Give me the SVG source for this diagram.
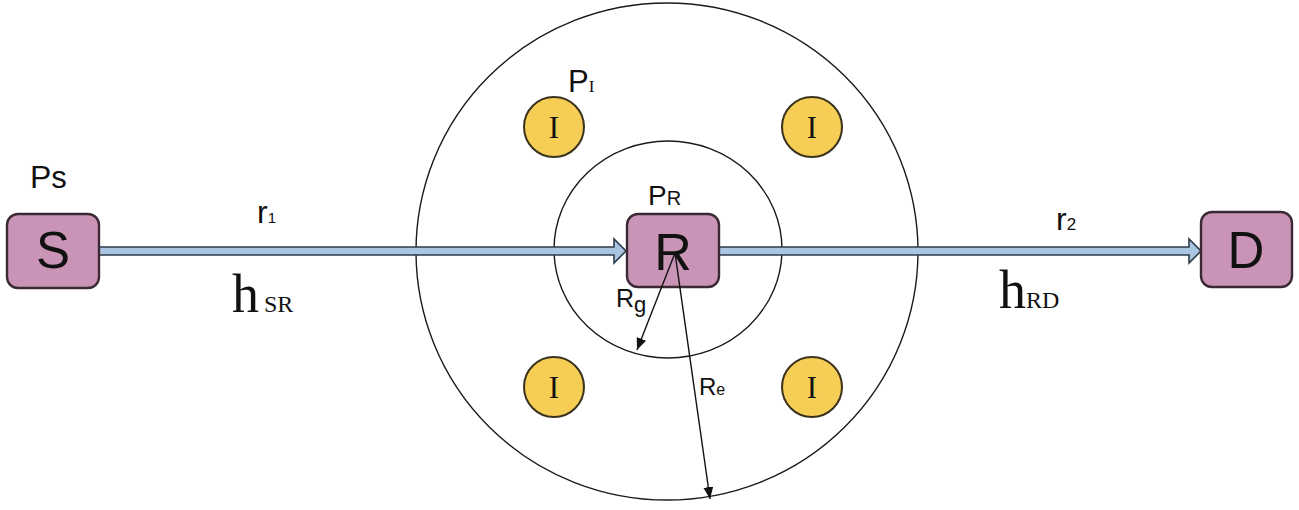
<svg xmlns="http://www.w3.org/2000/svg" width="1299" height="510" viewBox="0 0 1299 510">
<defs>
<style>
.box{fill:#c994b5;stroke:#3b2a34;stroke-width:2.4}
.intf{fill:#f6cd55;stroke:#3a321c;stroke-width:2}
.ring{fill:none;stroke:#1a1a1a;stroke-width:1.4}
.link{fill:#a9c5e2;stroke:#2e3b49;stroke-width:1.6;stroke-linejoin:miter}
.rad{stroke:#111;stroke-width:1.4;fill:none;marker-end:url(#ah)}
.sans{font-family:"Liberation Sans",Arial,sans-serif;fill:#111}
.serif{font-family:"Liberation Serif","Times New Roman",serif;fill:#111}
</style>
<marker id="ah" viewBox="0 0 12 10" refX="12" refY="5" markerWidth="12" markerHeight="10" markerUnits="userSpaceOnUse" orient="auto">
<path d="M0,0 L12,5 L0,10 Z" fill="#111"/>
</marker>
</defs>
<rect width="1299" height="510" fill="#fff"/>

<g id="coverage">
<ellipse class="ring" cx="667" cy="251.5" rx="251" ry="248.5"/>
<ellipse class="ring" cx="668" cy="249.5" rx="114" ry="108.5"/>
</g>

<g id="connectors">
<path class="link" d="M99,247 L614,247 L614,239 L626,251 L614,263 L614,255 L99,255 Z"/>
<path class="link" d="M719,247 L1189,247 L1189,239 L1201,251 L1189,263 L1189,255 L719,255 Z"/>
</g>

<g id="node-S">
<rect class="box" x="7" y="214" width="92" height="74" rx="11"/>
<text class="sans" x="53" y="268" font-size="51" text-anchor="middle">S</text>
<text class="sans" x="30" y="188" font-size="32">P<tspan font-size="31">s</tspan></text>
</g>

<g id="node-R">
<rect class="box" x="627" y="214" width="92" height="73" rx="11"/>
<text class="sans" x="673" y="270" font-size="52" text-anchor="middle">R</text>
<text class="sans" x="648" y="205" font-size="28">P<tspan font-size="20">R</tspan></text>
</g>

<g id="node-D">
<rect class="box" x="1201" y="212" width="91" height="75" rx="11"/>
<text class="sans" x="1246" y="268" font-size="51" text-anchor="middle">D</text>
</g>

<g id="interferer-1">
<circle class="intf" cx="554" cy="127" r="30"/>
<text class="serif" x="554" y="138" font-size="31" text-anchor="middle">I</text>
</g>
<g id="interferer-2">
<circle class="intf" cx="812" cy="127" r="30"/>
<text class="serif" x="812" y="138" font-size="31" text-anchor="middle">I</text>
</g>
<g id="interferer-3">
<circle class="intf" cx="554" cy="387" r="30"/>
<text class="serif" x="554" y="398" font-size="31" text-anchor="middle">I</text>
</g>
<g id="interferer-4">
<circle class="intf" cx="812" cy="387" r="30"/>
<text class="serif" x="812" y="398" font-size="31" text-anchor="middle">I</text>
</g>

<g id="radii">
<line class="rad" x1="675" y1="253" x2="637" y2="350"/>
<line class="rad" x1="675" y1="253" x2="710" y2="499"/>
</g>

<g id="labels">
<text class="sans" x="568" y="92" font-size="31">P<tspan class="serif" font-size="17">I</tspan></text>
<text class="sans" x="257" y="223" font-size="32">r<tspan font-size="15">1</tspan></text>
<text class="sans" x="1056" y="230" font-size="32">r<tspan font-size="17">2</tspan></text>
<text class="serif" x="232" y="312" font-size="54">h<tspan font-size="24" dx="5">SR</tspan></text>
<text class="serif" x="999" y="308" font-size="54">h<tspan font-size="24">RD</tspan></text>
<text class="sans" x="616" y="307" font-size="25">R<tspan font-size="22" dy="5">g</tspan></text>
<text class="sans" x="699" y="395" font-size="24">R<tspan font-size="16">e</tspan></text>
</g>
</svg>
